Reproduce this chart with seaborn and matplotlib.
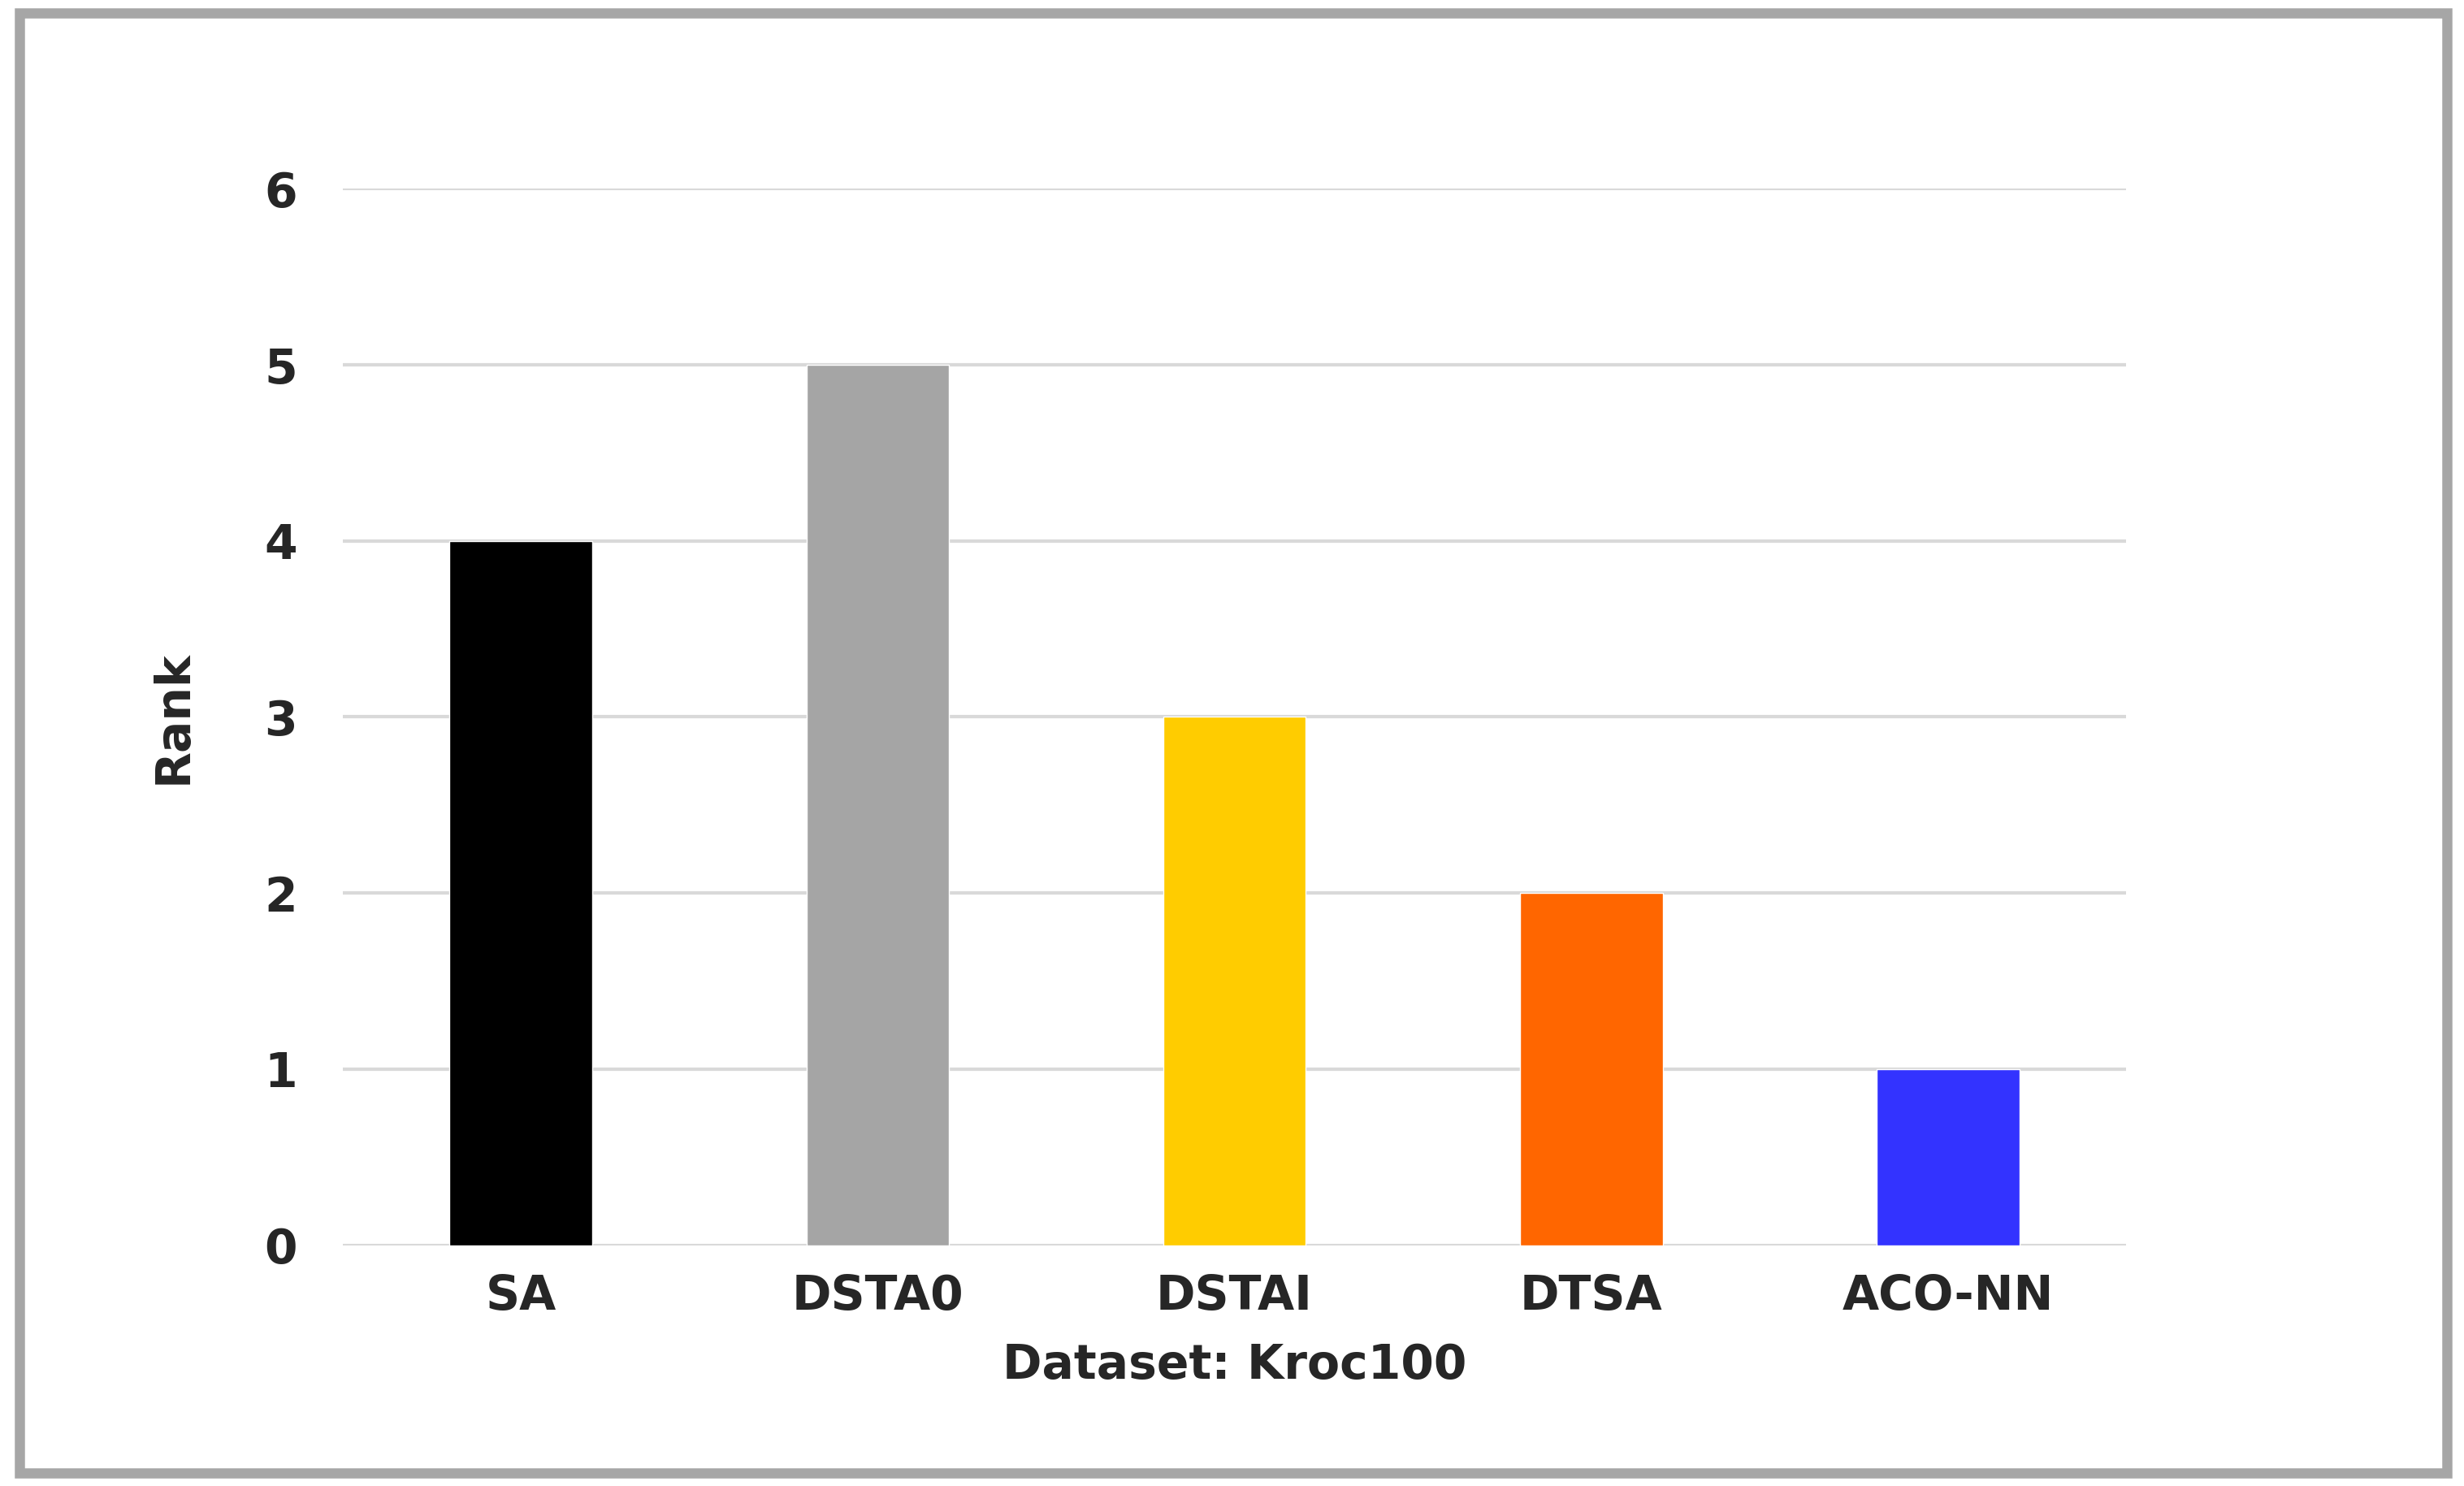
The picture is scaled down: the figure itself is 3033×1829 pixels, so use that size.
import matplotlib

matplotlib.use("Agg")
import matplotlib.pyplot as plt
import pandas as pd
import seaborn as sns
from matplotlib.patches import Rectangle

sns.set_theme(style="white")
plt.rcParams["font.family"] = ["DejaVu Sans"]

# Data
methods = ["SA", "DSTA0", "DSTAI", "DTSA", "ACO-NN"]
ranks = [4, 5, 3, 2, 1]
colors = ["#000000", "#a5a5a5", "#ffcc00", "#ff6600", "#3333ff"]

df = pd.DataFrame({"method": methods, "rank": ranks})

fig = plt.figure(figsize=(30.33, 18.29), dpi=100)
ax = fig.add_axes([0.139, 0.162, 0.724, 0.711])

sns.barplot(data=df, x="method", y="rank", hue="method", palette=colors,
            width=0.4, legend=False, ax=ax, saturation=1)

ax.set_ylim(0, 6)
ax.set_yticks(range(7))
ax.yaxis.grid(True, color="#d9d9d9", linewidth=3)
ax.set_axisbelow(True)
for s in ax.spines.values():
    s.set_visible(False)
ax.tick_params(axis="both", length=0, labelsize=42, pad=40)
for lab in ax.get_xticklabels() + ax.get_yticklabels():
    lab.set_fontweight("bold")
ax.tick_params(axis="x", pad=25)
ax.set_xlabel("Dataset: Kroc100", fontsize=42, fontweight="bold", labelpad=20)
ax.set_ylabel("Rank", fontsize=42, fontweight="bold", labelpad=60)

fig.patches.append(Rectangle((0.008, 0.009), 0.985, 0.982, transform=fig.transFigure,
                             fill=False, edgecolor="#a6a6a6", linewidth=9))

fig.savefig("out.png", dpi=100)
